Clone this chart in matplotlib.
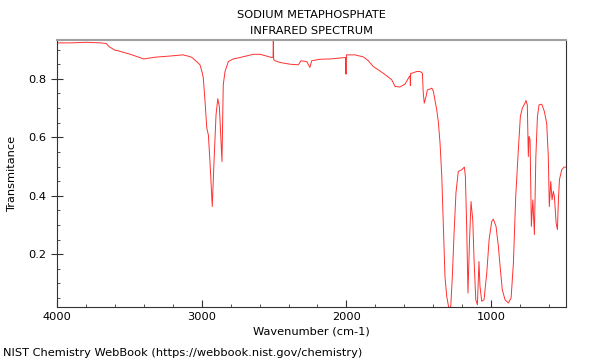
import matplotlib
matplotlib.use('Agg')
from matplotlib import pyplot as plt
from matplotlib.ticker import MultipleLocator

# wavenumber (cm-1) and transmittance
wavenumber = [4000, 3900, 3800, 3700, 3660, 3640, 3600, 3585, 3500, 3400,
              3323, 3220, 3129, 3081, 3067, 3026, 3012, 2998, 2989, 2977,
              2965, 2954, 2943, 2927, 2915, 2901, 2889, 2878, 2869, 2860,
              2851, 2839, 2816, 2782, 2735, 2678, 2643, 2597, 2516, 2507,
              2505, 2503, 2493, 2459, 2390, 2332, 2314, 2274, 2252, 2240,
              2182, 2113, 2044, 2006, 2003, 2000, 1941, 1883, 1849, 1814,
              1745, 1687, 1664, 1630, 1595, 1565, 1560, 1558, 1556, 1549,
              1514, 1491, 1475, 1469, 1462, 1450, 1441, 1422, 1410, 1399,
              1376, 1365, 1353, 1341, 1330, 1319, 1307, 1291, 1279, 1268,
              1256, 1243, 1227, 1203, 1185, 1178, 1169, 1160, 1150, 1139,
              1127, 1118, 1106, 1095, 1084, 1077, 1065, 1049, 1030, 1014,
              996, 985, 966, 950, 938, 923, 904, 881, 862, 846,
              830, 812, 798, 784, 766, 759, 750, 743, 738, 731,
              722, 712, 701, 691, 680, 669, 650, 632, 616, 605,
              598, 588, 579, 570, 563, 551, 542, 535, 528, 512,
              496, 484]
transmittance = [0.923, 0.923, 0.925, 0.923, 0.921, 0.910, 0.898, 0.897, 0.885, 0.868,
                 0.874, 0.878, 0.882, 0.876, 0.873, 0.855, 0.848, 0.824, 0.803, 0.722,
                 0.632, 0.608, 0.517, 0.363, 0.517, 0.677, 0.732, 0.705, 0.608, 0.517,
                 0.780, 0.825, 0.859, 0.868, 0.873, 0.880, 0.884, 0.884, 0.873, 0.874,
                 0.960, 0.866, 0.862, 0.856, 0.850, 0.848, 0.862, 0.859, 0.839, 0.862,
                 0.867, 0.868, 0.871, 0.873, 0.816, 0.882, 0.882, 0.875, 0.862, 0.842,
                 0.819, 0.797, 0.774, 0.772, 0.782, 0.808, 0.810, 0.777, 0.819, 0.819,
                 0.825, 0.825, 0.819, 0.751, 0.717, 0.739, 0.762, 0.765, 0.768, 0.757,
                 0.694, 0.654, 0.580, 0.466, 0.295, 0.124, 0.056, 0.012, 0.022, 0.124,
                 0.273, 0.410, 0.483, 0.489, 0.498, 0.466, 0.295, 0.067, 0.238, 0.380,
                 0.318, 0.181, 0.044, 0.027, 0.175, 0.090, 0.039, 0.044, 0.137, 0.250,
                 0.312, 0.320, 0.295, 0.227, 0.158, 0.079, 0.044, 0.033, 0.050, 0.170,
                 0.398, 0.557, 0.671, 0.700, 0.717, 0.726, 0.711, 0.534, 0.603, 0.592,
                 0.295, 0.386, 0.267, 0.534, 0.671, 0.711, 0.713, 0.688, 0.648, 0.534,
                 0.363, 0.449, 0.386, 0.415, 0.398, 0.307, 0.284, 0.386, 0.455, 0.489,
                 0.498, 0.498]

fig = plt.figure(figsize=(6, 3.6), dpi=100)
ax = fig.add_axes([0.095, 0.147, 0.848, 0.742])

ax.plot(wavenumber, transmittance, color='#ff3030', lw=0.7)

ax.set_xlim(4000, 484)
ax.set_ylim(0.019, 0.933)

ax.xaxis.set_major_locator(MultipleLocator(1000))
ax.xaxis.set_minor_locator(MultipleLocator(200))
ax.yaxis.set_major_locator(MultipleLocator(0.2))
ax.yaxis.set_minor_locator(MultipleLocator(0.05))
ax.tick_params(axis='both', which='major', direction='in', length=5, labelsize=8.2, color='#333333')
ax.tick_params(axis='both', which='minor', direction='in', length=2.5, color='#333333')
ax.tick_params(axis='y', which='major', direction='inout', length=8)

for side in ['left', 'bottom', 'right']:
    ax.spines[side].set_color('#333333')
ax.spines['top'].set_color('#a0a0a0')
ax.spines['top'].set_linewidth(1.5)

ax.set_title("SODIUM METAPHOSPHATE\nINFRARED SPECTRUM", fontsize=8.2, linespacing=1.75, pad=4)
ax.set_xlabel("Wavenumber (cm-1)", fontsize=8.2, labelpad=3.5)
ax.set_ylabel("Transmitance", fontsize=8.2, labelpad=8)
fig.text(0.005, 0.012, "NIST Chemistry WebBook (https://webbook.nist.gov/chemistry)", fontsize=8.2)

plt.savefig("out.png", dpi=100)
